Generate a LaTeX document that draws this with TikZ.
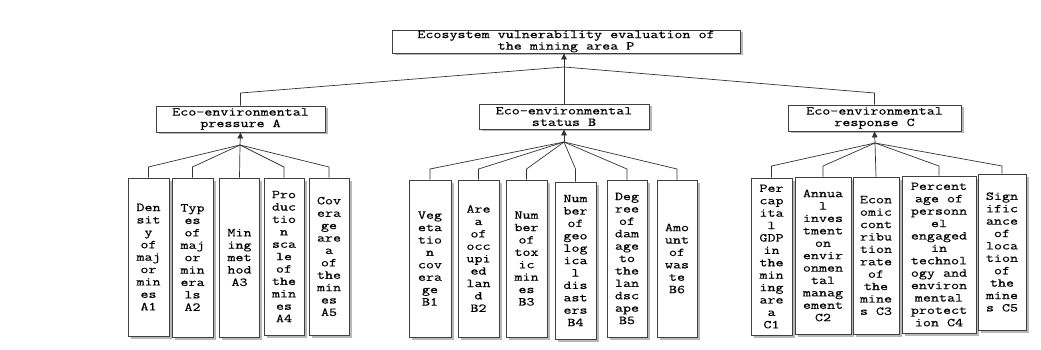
\documentclass[tikz,border=0pt]{standalone}
\usepackage{fontspec}
\newfontfamily\monoface[FakeStretch=1.3,FakeBold=0.3]{Latin Modern Mono}
\usetikzlibrary{arrows.meta,shadows}
\begin{document}
\begin{tikzpicture}[x=1pt,y=-1pt,
  box/.style={draw=black!75, line width=0.8pt, fill=white, inner sep=0pt, align=center,
    drop shadow={shadow xshift=2.5pt,shadow yshift=-2.5pt,fill=black!28,opacity=1}},
  leaf/.style={box, font=\monoface\fontsize{12}{12.4}\selectfont},
  head/.style={box, font=\monoface\fontsize{12}{11.5}\selectfont},
  conn/.style={draw=black!80, line width=0.7pt},
  arr/.style={conn, -{Triangle[length=6pt,width=5.5pt]}}]
\useasboundingbox (0,0) rectangle (1041,350);
\fill[white] (0,0) rectangle (1041,350);

% top
\node[head, minimum width=348, minimum height=23] (P) at (566,41.5)
  {Ecosystem vulnerability evaluation of\\the mining area P};
% middle
\node[head, minimum width=169, minimum height=26] (A) at (240.5,119) {Eco-environmental\\pressure A};
\node[head, minimum width=170, minimum height=25] (B) at (564,116.5) {Eco-environmental\\status B};
\node[head, minimum width=173, minimum height=26] (C) at (874.5,118) {Eco-environmental\\response C};

% leaves A
\node[leaf, minimum width=41, minimum height=158] (A1) at (148.5,257) {Den\\sit\\y\\of\\maj\\or\\min\\es\\A1};
\node[leaf, minimum width=41, minimum height=159] (A2) at (192.5,257.5) {Typ\\es\\of\\maj\\or\\min\\era\\ls\\A2};
\node[leaf, minimum width=40, minimum height=159] (A3) at (239.5,257.5) {Min\\ing\\met\\hod\\A3};
\node[leaf, minimum width=40, minimum height=157] (A4) at (284,256.5) {Pro\\duc\\tio\\n\\sca\\le\\of\\the\\min\\es\\A4};
\node[leaf, minimum width=40, minimum height=157] (A5) at (329,256.5) {Cov\\era\\ge\\are\\a\\of\\the\\min\\es\\A5};

% leaves B
\node[leaf, minimum width=42, minimum height=157] (B1) at (430,258.5) {Veg\\eta\\tio\\n\\cov\\era\\ge\\B1};
\node[leaf, minimum width=41, minimum height=157] (B2) at (478.5,258.5) {Are\\a\\of\\occ\\upi\\ed\\lan\\d\\B2};
\node[leaf, minimum width=41, minimum height=157] (B3) at (526.5,258.5) {Num\\ber\\of\\tox\\ic\\min\\es\\B3};
\node[leaf, minimum width=41, minimum height=157] (B4) at (575.5,260.5) {Num\\ber\\of\\geo\\log\\ica\\l\\dis\\ast\\ers\\B4};
\node[leaf, minimum width=40, minimum height=157] (B5) at (627,258.5) {Deg\\ree\\of\\dam\\age\\to\\the\\lan\\dsc\\ape\\B5};
\node[leaf, minimum width=40, minimum height=157] (B6) at (677,258.5) {Amo\\unt\\of\\was\\te\\B6};

% leaves C
\node[leaf, minimum width=41, minimum height=157] (C1) at (771.5,256.5) {Per\\cap\\ita\\l\\GDP\\in\\the\\min\\ing\\are\\a\\C1};
\node[leaf, minimum width=56, minimum height=157] (C2) at (823,255.5) {Annua\\l\\inves\\tment\\on\\envir\\onmen\\tal\\manag\\ement\\C2};
\node[leaf, minimum width=46, minimum height=157] (C3) at (876,255.5) {Econ\\omic\\cont\\ribu\\tion\\rate\\of\\the\\mine\\s C3};
\node[leaf, minimum width=74, minimum height=157] (C4) at (939,254.5) {Percent\\age of\\personn\\el\\engaged\\in\\technol\\ogy and\\environ\\mental\\protect\\ion C4};
\node[leaf, minimum width=48, minimum height=156] (C5) at (1002,252) {Sign\\ific\\ance\\of\\loca\\tion\\of\\the\\mine\\s C5};

% top-level connectors
\coordinate (J) at (564,67);
\coordinate (kt) at (0,93);
\draw[arr] (B.north) -- (B.north |- P.south);
\draw[conn] (A.north) -- (A.north |- kt) -- (J);
\draw[conn] (C.north) -- (C.north |- kt) -- (J);

% fan A
\coordinate (jA) at (240,145);
\coordinate (kA) at (0,167);
\draw[arr] (jA) -- (A.south);
\foreach \n in {A1,A2,A4,A5} \draw[conn] (\n.north) -- (\n.north |- kA) -- (jA);
\draw[conn] (A3.north) -- (jA);

% fan B
\coordinate (jB) at (564,142);
\coordinate (kB) at (0,169);
\draw[arr] (jB) -- (B.south);
\foreach \n in {B1,B2,B3,B4,B5,B6} \draw[conn] (\n.north) -- (\n.north |- kB) -- (jB);

% fan C
\coordinate (jC) at (875,143);
\coordinate (kC) at (0,166);
\draw[arr] (jC) -- (C.south);
\foreach \n in {C1,C2,C4,C5} \draw[conn] (\n.north) -- (\n.north |- kC) -- (jC);
\draw[conn] (C3.north) -- (jC);
\end{tikzpicture}
\end{document}
